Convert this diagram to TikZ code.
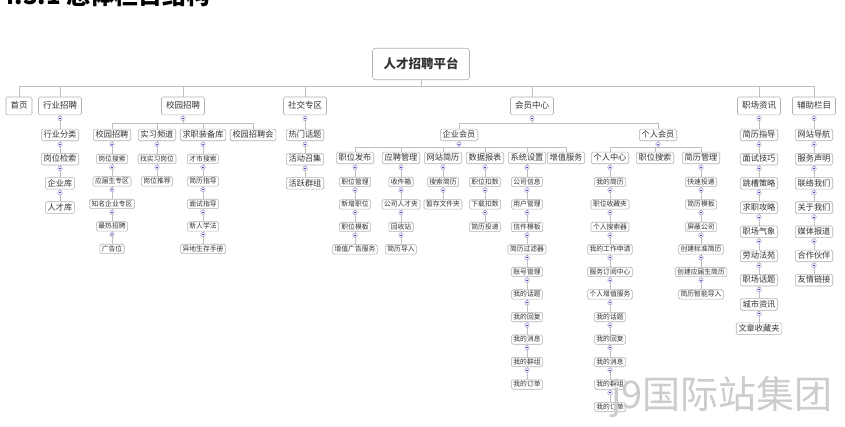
\documentclass[tikz,border=0pt]{standalone}
\usepackage{fontspec}
\setmainfont{Noto Sans CJK SC}
\tikzset{
  box base/.style={
    draw=gray!60,
    fill=white,
    line width=.6pt,
    rounded corners=1.5pt,
    text=black!80,
  },
  root node/.style={box base, rounded corners=3pt, inner xsep=11pt, inner ysep=9.5pt,
    text height=10.5pt, text depth=2pt, font=\fontsize{12.5}{13}\selectfont\bfseries},
  menu node/.style={box base, inner xsep=4.5pt, inner ysep=4.8pt,
    text height=7pt, text depth=1.3pt, font=\fontsize{8.5}{9}\selectfont},
  topic node/.style={box base, inner xsep=2.3pt, inner ysep=1.8pt,
    text height=6.8pt, text depth=1.2pt, font=\fontsize{8.2}{9}\selectfont},
  leaf node/.style={box base, inner xsep=2pt, inner ysep=1.4pt,
    text height=5.6pt, text depth=1pt, font=\fontsize{6.8}{7}\selectfont},
  link/.style={draw=gray!50, line width=.6pt},
  fold/.style={circle, draw=blue!30!gray!60, fill=blue!7, inner sep=0pt,
    minimum size=4.6pt, line width=.4pt,
    path picture={\draw[blue!40!gray, line width=.45pt]
      ([xshift=-1.3pt]path picture bounding box.center) --
      ([xshift=1.3pt]path picture bounding box.center);}},
}
% a column of boxes hanging one under the other
\newcommand\nodechain[7]{%
  \foreach \t [count=\i] in {#7}{%
    \pgfmathtruncatemacro\j{\i-1}%
    \node[#6] (#1\i) at (#3,{#4+\j*#5}) {\t};
    \ifnum\i=1 \def\prevnode{#2}\else\edef\prevnode{#1\j}\fi
    \draw[link] (\prevnode.south) -- (#1\i.north);
    \node[fold] at ([yshift=-3.2pt]\prevnode.south) {};
  }%
}

\begin{document}
\begin{tikzpicture}[x=1pt, y=-1pt]
  \path[fill=white, use as bounding box] (0,0) rectangle (845,427);
  \begin{scope}
    \clip (0,0) rectangle (845,20);
    \node[anchor=base west, inner sep=0pt, font=\fontsize{24}{24}\selectfont\bfseries] (heading) at (0,5) {4.3.1 总体栏目结构};
  \end{scope}

  \node[root node] (root) at (421,64) {人才招聘平台};
  \coordinate (rootbar) at (421,86);
  \node[menu node] (home) at (19,106) {首页};
  \node[menu node] (hyzp) at (60,106) {行业招聘};
  \node[menu node] (xyzp) at (183,106) {校园招聘};
  \node[menu node] (sjzq) at (305,106) {社交专区};
  \node[menu node] (hyzx) at (532,106) {会员中心};
  \node[menu node] (zczx) at (759,106) {职场资讯};
  \node[menu node] (fzlm) at (814,106) {辅助栏目};
  \draw[link] (root.south) -- (rootbar);
  \draw[link] (rootbar -| home.north) -- (rootbar -| fzlm.north);
  \foreach \n in {home,hyzp,xyzp,sjzq,hyzx,zczx,fzlm}
    \draw[link] (rootbar -| \n.north) -- (\n.north);

  % 行业招聘
  \nodechain{hy}{hyzp}{60}{135}{24.2}{topic node}{行业分类,岗位检索,企业库,人才库}

  % 校园招聘
  \coordinate (xybar) at (183,123);
  \node[topic node] (xy1) at (112,135) {校园招聘};
  \node[topic node] (xy2) at (157,135) {实习频道};
  \node[topic node] (xy3) at (203,135) {求职装备库};
  \node[topic node] (xy4) at (253,135) {校园招聘会};
  \draw[link] (xyzp.south) -- (xybar);
  \draw[link] (xybar -| xy1.north) -- (xybar -| xy4.north);
  \foreach \n in {xy1,xy2,xy3,xy4}
    \draw[link] (xybar -| \n.north) -- (\n.north);
  \node[fold] at ([yshift=-3.2pt]xyzp.south) {};
  \nodechain{xa}{xy1}{112}{159}{22.5}{leaf node}{岗位搜索,应届生专区,知名企业专区,最热招聘,广告位}
  \nodechain{xb}{xy2}{157}{159}{22.5}{leaf node}{找实习岗位,岗位推荐}
  \nodechain{xc}{xy3}{203}{159}{22.5}{leaf node}{才市搜索,简历指导,面试指导,新人学法,异地生存手册}

  % 社交专区
  \nodechain{sj}{sjzq}{305}{135}{24.2}{topic node}{热门话题,活动召集,活跃群组}

  % 会员中心
  \coordinate (hybar) at (532,123);
  \node[topic node] (qy) at (459,135) {企业会员};
  \node[topic node] (gr) at (658,135) {个人会员};
  \draw[link] (hyzx.south) -- (hybar);
  \draw[link] (hybar -| qy.north) -- (hybar -| gr.north);
  \foreach \n in {qy,gr}
    \draw[link] (hybar -| \n.north) -- (\n.north);
  \node[fold] at ([yshift=-3.2pt]hyzx.south) {};

  \coordinate (qybar) at (459,147);
  \node[topic node] (qy1) at (355,158) {职位发布};
  \node[topic node] (qy2) at (401,158) {应聘管理};
  \node[topic node] (qy3) at (443,158) {网站简历};
  \node[topic node] (qy4) at (485,158) {数据报表};
  \node[topic node] (qy5) at (527,158) {系统设置};
  \node[topic node] (qy6) at (566,158) {增值服务};
  \draw[link] (qy.south) -- (qybar);
  \draw[link] (qybar -| qy1.north) -- (qybar -| qy6.north);
  \foreach \n in {qy1,qy2,qy3,qy4,qy5,qy6}
    \draw[link] (qybar -| \n.north) -- (\n.north);
  \node[fold] at ([yshift=-3pt]qy.south) {};
  \nodechain{qa}{qy1}{355}{182}{22.5}{leaf node}{职位管理,新增职位,职位模板,增值广告服务}
  \nodechain{qb}{qy2}{401}{182}{22.5}{leaf node}{收件箱,公司人才夹,回收站,简历导入}
  \nodechain{qc}{qy3}{443}{182}{22.5}{leaf node}{搜索简历,暂存文件夹}
  \nodechain{qd}{qy4}{485}{182}{22.5}{leaf node}{职位扣数,下载扣数,简历投递}
  \nodechain{qe}{qy5}{527}{182}{22.5}{leaf node}{公司信息,用户管理,信件模板,简历过滤器,账号管理,我的话题,我的回复,我的消息,我的群组,我的订单}

  \coordinate (grbar) at (658,147);
  \node[topic node] (gr1) at (610,158) {个人中心};
  \node[topic node] (gr2) at (655,158) {职位搜索};
  \node[topic node] (gr3) at (701,158) {简历管理};
  \draw[link] (gr.south) -- (grbar);
  \draw[link] (grbar -| gr1.north) -- (grbar -| gr3.north);
  \foreach \n in {gr1,gr2,gr3}
    \draw[link] (grbar -| \n.north) -- (\n.north);
  \node[fold] at ([yshift=-3pt]gr.south) {};
  \nodechain{ga}{gr1}{610}{182}{22.5}{leaf node}{我的简历,职位收藏夹,个人搜索器,我的工作申请,服务订阅中心,个人增值服务,我的话题,我的回复,我的消息,我的群组,我的订单}
  \nodechain{gc}{gr3}{701}{182}{22.5}{leaf node}{快速投递,简历模板,屏蔽公司,创建标准简历,创建应届生简历,简历智能导入}

  % 职场资讯, 辅助栏目
  \nodechain{zc}{zczx}{759}{135}{24.2}{topic node}{简历指导,面试技巧,跳槽策略,求职攻略,职场气象,劳动法苑,职场话题,城市资讯,文章收藏夹}
  \nodechain{fz}{fzlm}{814}{135}{24.2}{topic node}{网站导航,服务声明,联络我们,关于我们,媒体报道,合作伙伴,友情链接}

  \node[anchor=base west, inner sep=0pt, text=gray!40, font=\fontsize{38}{38}\selectfont] (mark) at (611,408) {j9国际站集团};
\end{tikzpicture}
\end{document}
